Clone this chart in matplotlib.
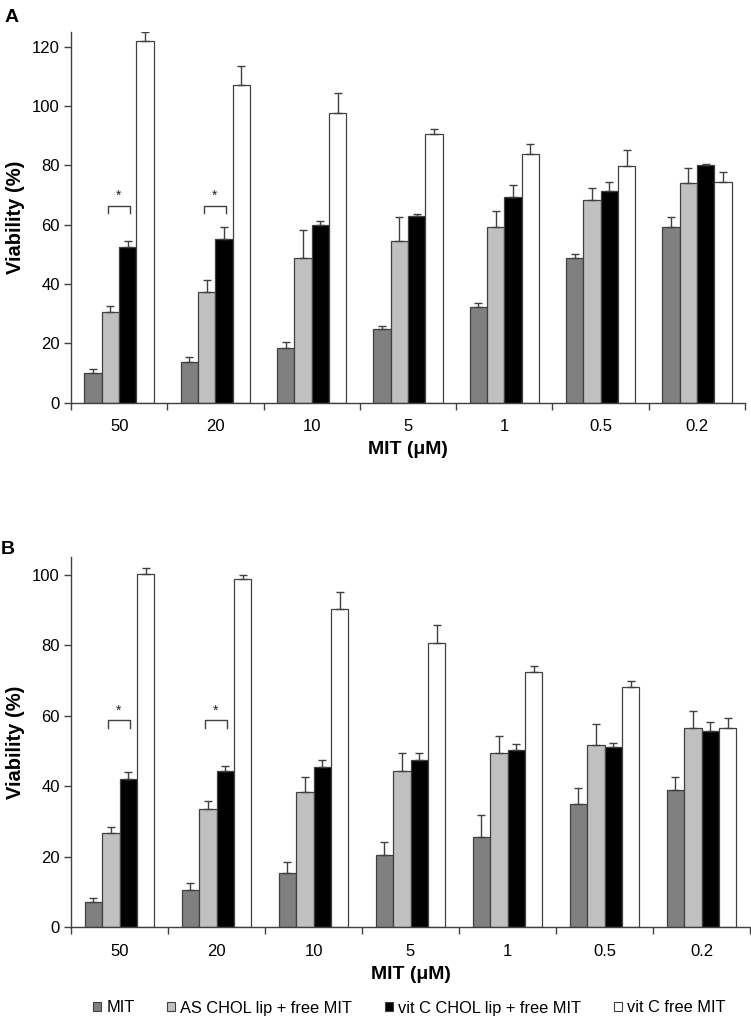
import matplotlib
matplotlib.use("Agg")
import matplotlib.pyplot as plt
import numpy as np
from matplotlib.patches import Patch

plt.rcParams['font.family'] = ['Liberation Sans', 'DejaVu Sans']

categories = ["50", "20", "10", "5", "1", "0.5", "0.2"]
series_names = ["MIT", "AS CHOL lip + free MIT", "vit C CHOL lip + free MIT", "vit C free MIT"]
colors = ["#808080", "#c0c0c0", "#000000", "#ffffff"]

# Panel A
a_mit = [9.9, 13.7, 18.4, 24.7, 32.2, 48.6, 59.3]
a_mit_sd = [1.4, 1.7, 2.1, 1.0, 1.3, 1.6, 3.1]
a_as = [30.4, 37.3, 48.8, 54.5, 59.2, 68.4, 74.1]
a_as_sd = [2.2, 3.9, 9.5, 7.9, 5.3, 3.9, 5.1]
a_vcl = [52.5, 55.2, 59.9, 62.9, 69.3, 71.4, 80.0]
a_vcl_sd = [1.9, 4.0, 1.4, 0.8, 4.2, 2.8, 0.3]
a_vcf = [121.7, 107.1, 97.6, 90.6, 83.8, 79.7, 74.2]
a_vcf_sd = [3.1, 6.3, 6.8, 1.7, 3.3, 5.3, 3.5]

# Panel B
b_mit = [7.0, 10.5, 15.2, 20.4, 25.7, 35.0, 38.8]
b_mit_sd = [1.2, 1.9, 3.3, 3.7, 6.1, 4.5, 3.8]
b_as = [26.7, 33.6, 38.4, 44.2, 49.4, 51.7, 56.6]
b_as_sd = [1.7, 2.3, 4.2, 5.1, 4.9, 6.0, 4.7]
b_vcl = [42.1, 44.3, 45.4, 47.5, 50.2, 51.1, 55.7]
b_vcl_sd = [1.8, 1.4, 2.0, 1.9, 1.8, 1.3, 2.4]
b_vcf = [100.3, 98.8, 90.2, 80.7, 72.3, 68.1, 56.4]
b_vcf_sd = [1.6, 1.1, 4.9, 5.1, 1.8, 1.8, 3.1]

# significance brackets
a_sig_groups = [0, 1]
a_sig_level = 66.3
b_sig_groups = [0, 1]
b_sig_level = 58.7

W, H = 751, 1028
fig = plt.figure(figsize=(W / 100, H / 100), dpi=100)

def draw_panel(rect, means, sds, ylim, yticks, sig_groups, sig_level, leg, letter, letter_pos):
    ax = fig.add_axes(rect)
    n = len(categories)
    x = np.arange(n) + 0.5
    w = 0.18
    offs = np.array([-1.5, -0.5, 0.5, 1.5]) * w
    for k in range(4):
        m = np.array(means[k])
        s = np.array(sds[k])
        ax.bar(x + offs[k], m, width=w, color=colors[k], edgecolor="#404040",
               linewidth=0.9, zorder=2)
        ax.errorbar(x + offs[k], m, yerr=[np.zeros_like(s), s], fmt="none",
                    ecolor="#404040", elinewidth=1.0, capsize=3, capthick=1.0, zorder=3)
    for g in sig_groups:
        x1 = x[g] + offs[1] - 0.03
        x2 = x[g] + offs[2] + 0.02
        ax.plot([x1, x1, x2, x2], [sig_level - leg, sig_level, sig_level, sig_level - leg],
                color="#404040", lw=1.0, zorder=3)
        ax.text((x1 + x2) / 2, sig_level + leg * 0.4, "*", ha="center", va="bottom",
                fontsize=10, color="#202020")
    ax.set_xlim(0, n)
    ax.set_ylim(*ylim)
    ax.set_yticks(yticks)
    ax.set_xticks(np.arange(n + 1))
    ax.set_xticklabels([])
    ax.set_xticks(x, minor=True)
    ax.set_xticklabels(categories, minor=True)
    ax.tick_params(axis="x", which="major", length=5, direction="out", width=1, color="#404040")
    ax.tick_params(axis="x", which="minor", length=0, pad=12, labelsize=12)
    ax.tick_params(axis="y", length=5, direction="out", width=1, color="#404040",
                   labelsize=12, pad=3)
    for sp in ["top", "right"]:
        ax.spines[sp].set_visible(False)
    for sp in ["left", "bottom"]:
        ax.spines[sp].set_color("#404040")
        ax.spines[sp].set_linewidth(1.0)
    ax.set_xlabel("MIT (\u03bcM)", fontsize=14, fontweight="bold", labelpad=5)
    ax.set_ylabel("Viability (%)", fontsize=14.5, fontweight="bold", labelpad=5)
    fig.text(letter_pos[0], letter_pos[1], letter, fontsize=14, fontweight="bold",
             ha="left", va="center")
    return ax

axA = draw_panel([71 / W, 1 - 402.7 / H, (745 - 71) / W, (402.7 - 31.7) / H],
                 [a_mit, a_as, a_vcl, a_vcf], [a_mit_sd, a_as_sd, a_vcl_sd, a_vcf_sd],
                 (0, 125), [0, 20, 40, 60, 80, 100, 120], a_sig_groups, a_sig_level, 2.3,
                 "A", (5 / W, 1 - 17 / H))
axB = draw_panel([71 / W, 1 - 927 / H, (750 - 71) / W, (927 - 557.3) / H],
                 [b_mit, b_as, b_vcl, b_vcf], [b_mit_sd, b_as_sd, b_vcl_sd, b_vcf_sd],
                 (0, 105), [0, 20, 40, 60, 80, 100], b_sig_groups, b_sig_level, 2.1,
                 "B", (1 / W, 1 - 549 / H))

handles = [Patch(facecolor=c, edgecolor="#404040", linewidth=0.8) for c in colors]
fig.legend(handles, series_names, loc="center", bbox_to_anchor=(0.545, 1 - 1008 / H),
           ncol=4, frameon=False, fontsize=11.8,
           handlelength=0.5, handleheight=0.5, handletextpad=0.3, columnspacing=2.0,
           borderpad=0.2)

fig.savefig("out.png", dpi=100)
